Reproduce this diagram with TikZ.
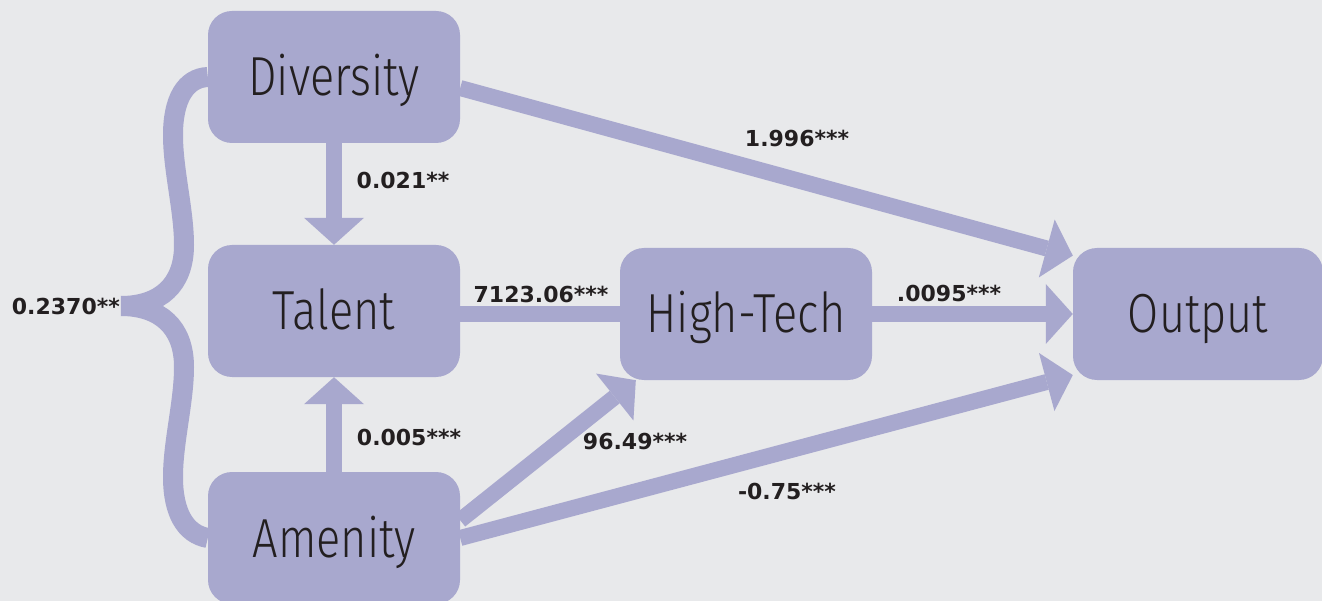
\documentclass[tikz,border=0pt]{standalone}
\usepackage{fontspec}
\usetikzlibrary{arrows.meta}
\newfontfamily\boxfont{Fira Sans Light}[FakeStretch=0.82]
\newfontfamily\numfont{DejaVu Sans}
\definecolor{boxfill}{HTML}{A8A8CE}
\definecolor{bgcol}{HTML}{E8E9EB}
\definecolor{txt}{HTML}{231F20}

\begin{document}
\begin{tikzpicture}[x=1pt,y=-1pt,
    factor/.style={fill=boxfill, rounded corners=24pt, minimum width=252pt, minimum height=132pt,
      inner sep=0pt, text=txt, font=\boxfont\fontsize{55}{55}\selectfont, text height=38pt, text depth=0pt},
    coef/.style={text=txt, font=\numfont\bfseries\fontsize{22}{22}\selectfont, inner sep=1pt},
    link/.style={draw=boxfill, line width=16pt},
    effect/.style={link, -{Triangle[width=60pt,length=27pt,line width=0pt]}},
    brace/.style={draw=boxfill, line width=20pt}]
    \fill[bgcol] (0,0) rectangle (1322,601);
    \useasboundingbox (0,0) rectangle (1322,601);
    % boxes
    \node[factor] (Diversity) at (334,77) {Diversity};
    \node[factor] (Talent) at (334,311) {Talent};
    \node[factor] (Amenity) at (334,538) {Amenity};
    \node[factor] (HighTech) at (746,314) {High-Tech};
    \node[factor, minimum width=250pt] (Output) at (1198,314) {Output};
    % correlation brace
    \node[coef, anchor=east] (corr) at (121,306) {0.2370**};
    \draw[brace] (Diversity.west) .. controls (185,78) and (173,100) .. (173,135)
      .. controls (173,170) and (184,210) .. (184,245)
      .. controls (184,285) and (160,306) .. (corr.east)
      .. controls (160,306) and (184,327) .. (184,367)
      .. controls (184,402) and (173,442) .. (173,477)
      .. controls (173,512) and (185,534) .. (Amenity.west);
    % paths
    \draw[effect] (Diversity) -- (Talent);
    \draw[effect] (Amenity) -- (Talent);
    \draw[link] (Talent.east |- HighTech.west) -- (HighTech.west);
    \draw[effect] (HighTech) -- (Output);
    \draw[effect] (Diversity.-5) -- (Output.155);
    \draw[effect] (Amenity.8) -- (HighTech.211);
    \draw[effect] (Amenity.east) -- (Output.206);
    % coefficients
    \node[coef] (cDT) at (403,180) {0.021**};
    \node[coef] (cAT) at (409,437) {0.005***};
    \node[coef] (cTH) at (541,294) {7123.06***};
    \node[coef] (cHO) at (949,293) {.0095***};
    \node[coef] (cDO) at (797,138) {1.996***};
    \node[coef] (cAH) at (635,441) {96.49***};
    \node[coef] (cAO) at (787,491) {-0.75***};
\end{tikzpicture}
\end{document}
